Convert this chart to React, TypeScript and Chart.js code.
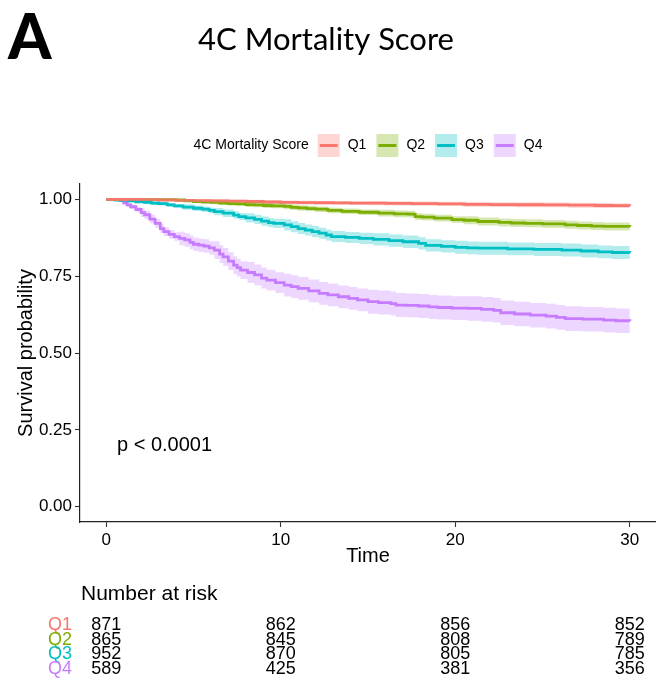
import { useEffect, useRef } from "react";
import { Chart, registerables } from "chart.js";

Chart.register(...registerables);

// Kaplan–Meier survival by 4C Mortality Score quartile
const groups = ["Q1", "Q2", "Q3", "Q4"];
const lineColors = ["#F8766D", "#7CAE00", "#00BFC4", "#C77CFF"];
const bandColors = [
  "rgba(248,118,109,0.3)",
  "rgba(124,174,0,0.3)",
  "rgba(0,191,196,0.3)",
  "rgba(199,124,255,0.3)",
];

const q1Times = [0, 1, 2, 3, 4, 5, 6, 7, 8, 9, 10, 11, 12, 13, 14, 15, 16, 17.5, 19, 20.5, 22, 23.5, 25, 26.5, 28, 29, 30];
const q1Surv = [1, 0.9995, 0.999, 0.998, 0.997, 0.996, 0.995, 0.994, 0.993, 0.9915, 0.990, 0.9895, 0.989, 0.9885, 0.988, 0.9875, 0.987, 0.986, 0.985, 0.984, 0.983, 0.9825, 0.982, 0.981, 0.980, 0.9795, 0.979];

const q2Times = [0, 2, 4, 4.5, 5, 5.5, 6, 6.5, 7, 7.5, 8, 8.5, 9, 9.5, 10.2, 10.6, 11, 11.5, 12, 12.7, 13.5, 14.5, 15.6, 16.5, 17.3, 17.7, 18.1, 18.8, 19.8, 20.5, 21.3, 22.5, 23.2, 24, 25, 26.3, 27, 27.8, 28.5, 30];
const q2Surv = [1, 0.999, 0.998, 0.995, 0.993, 0.991, 0.99, 0.988, 0.986, 0.985, 0.983, 0.982, 0.98, 0.979, 0.977, 0.974, 0.972, 0.97, 0.968, 0.964, 0.961, 0.958, 0.955, 0.953, 0.952, 0.944, 0.942, 0.939, 0.934, 0.932, 0.928, 0.925, 0.923, 0.922, 0.92, 0.917, 0.915, 0.913, 0.912, 0.911];

const q3Times = [0, 0.5, 0.9, 1.2, 1.7, 2.2, 2.6, 3.0, 3.5, 3.9, 4.4, 5.0, 5.5, 5.9, 6.2, 6.7, 7.3, 7.6, 8.0, 8.5, 8.9, 9.3, 9.6, 10.2, 10.6, 11.0, 11.4, 11.8, 12.2, 12.6, 12.9, 13.7, 14.5, 15.3, 16.2, 17.0, 17.9, 18.3, 19.2, 20.0, 20.7, 21.3, 23, 24.5, 26.1, 27.2, 28.2, 29, 30];
const q3Surv = [1, 0.998, 0.997, 0.995, 0.992, 0.99, 0.988, 0.986, 0.982, 0.979, 0.975, 0.971, 0.968, 0.964, 0.96, 0.955, 0.949, 0.944, 0.94, 0.935, 0.929, 0.924, 0.922, 0.917, 0.911, 0.905, 0.9, 0.895, 0.89, 0.884, 0.879, 0.876, 0.873, 0.87, 0.866, 0.862, 0.857, 0.85, 0.847, 0.844, 0.842, 0.841, 0.839, 0.837, 0.835, 0.832, 0.829, 0.827, 0.826];

const q4Times = [0, 0.6, 0.8, 1.0, 1.2, 1.4, 1.7, 2.0, 2.2, 2.5, 2.8, 3.1, 3.3, 3.6, 3.9, 4.2, 4.5, 4.8, 5.0, 5.3, 5.6, 5.9, 6.2, 6.5, 6.7, 7.0, 7.3, 7.5, 7.7, 8.1, 8.5, 8.9, 9.2, 9.7, 10.2, 10.6, 11.0, 11.6, 12.2, 12.7, 13.3, 13.9, 14.4, 15.0, 15.6, 16.3, 16.6, 17.2, 17.9, 18.5, 19.0, 19.8, 20.7, 21.5, 22.2, 22.6, 23.4, 24.3, 25.2, 25.8, 26.3, 27.3, 28.5, 29.2, 30];
const q4Surv = [1, 1, 0.996, 0.989, 0.982, 0.976, 0.967, 0.957, 0.95, 0.936, 0.922, 0.905, 0.895, 0.886, 0.879, 0.873, 0.868, 0.86, 0.854, 0.851, 0.848, 0.842, 0.835, 0.822, 0.813, 0.799, 0.786, 0.778, 0.77, 0.762, 0.754, 0.744, 0.737, 0.729, 0.721, 0.716, 0.71, 0.702, 0.694, 0.689, 0.683, 0.678, 0.673, 0.667, 0.664, 0.661, 0.656, 0.655, 0.653, 0.65, 0.648, 0.646, 0.645, 0.642, 0.639, 0.631, 0.627, 0.623, 0.62, 0.616, 0.612, 0.61, 0.607, 0.605, 0.604];

// 95% confidence band half-widths, held from each band time onward
const bandTimes = [0, 1, 2, 4, 6, 8, 10, 15, 20, 30];
const q1Band = [0, 0.002, 0.003, 0.004, 0.005, 0.0055, 0.006, 0.007, 0.008, 0.008];
const q2Band = [0, 0.001, 0.002, 0.003, 0.006, 0.008, 0.009, 0.011, 0.013, 0.017];
const q3Band = [0, 0.004, 0.006, 0.009, 0.012, 0.015, 0.018, 0.02, 0.021, 0.022];
const q4Band = [0, 0.007, 0.014, 0.022, 0.029, 0.034, 0.037, 0.039, 0.04, 0.04];

// Number at risk table
const riskTimes = [0, 10, 20, 30];
const q1Risk = [871, 862, 856, 852];
const q2Risk = [865, 845, 808, 789];
const q3Risk = [952, 870, 805, 785];
const q4Risk = [589, 425, 381, 356];

const xTicks = [0, 10, 20, 30];
const yTicks = [0, 0.25, 0.5, 0.75, 1];

const seriesTimes = [q1Times, q2Times, q3Times, q4Times];
const seriesSurv = [q1Surv, q2Surv, q3Surv, q4Surv];
const seriesBand = [q1Band, q2Band, q3Band, q4Band];
const seriesRisk = [q1Risk, q2Risk, q3Risk, q4Risk];

const AXIS_FONT = '"Liberation Sans", Arial, sans-serif';
const TITLE_FONT = 'Lato, "Open Sans", sans-serif';

function bandAt(band: number[], t: number) {
  let hw = band[0];
  for (let i = 0; i < bandTimes.length; i++) {
    if (t >= bandTimes[i]) hw = band[i];
  }
  return hw;
}

const decorations = {
  id: "decorations",
  afterDraw(chart: any) {
    const { ctx, chartArea, scales } = chart;
    const xs = scales.x;
    const ys = scales.y;
    const cx = (chartArea.left + chartArea.right) / 2;
    ctx.save();

    // panel letter and title
    ctx.fillStyle = "#000";
    ctx.textBaseline = "alphabetic";
    ctx.textAlign = "left";
    ctx.font = `900 62px ${TITLE_FONT}`;
    ctx.fillText("A", 8, 59);
    ctx.textAlign = "center";
    ctx.font = `400 31px ${TITLE_FONT}`;
    ctx.fillText("4C Mortality Score", 326, 50);

    // legend
    ctx.font = `14px ${AXIS_FONT}`;
    ctx.textBaseline = "middle";
    ctx.textAlign = "left";
    const legendTitle = "4C Mortality Score";
    const keyW = 22;
    const keyH = 23;
    const titleW = ctx.measureText(legendTitle).width;
    const labelWs = groups.map((g) => ctx.measureText(g).width);
    let total = titleW + 9;
    labelWs.forEach((w, i) => {
      total += keyW + 8 + w + (i < groups.length - 1 ? 10 : 0);
    });
    let lx = cx - total / 2;
    const ly = 145.5;
    ctx.fillStyle = "#000";
    ctx.fillText(legendTitle, lx, ly);
    lx += titleW + 9;
    groups.forEach((g, i) => {
      ctx.fillStyle = bandColors[i];
      ctx.fillRect(lx, ly - keyH / 2, keyW, keyH);
      ctx.strokeStyle = lineColors[i];
      ctx.lineWidth = 3;
      ctx.beginPath();
      ctx.moveTo(lx + 2, ly);
      ctx.lineTo(lx + keyW - 2, ly);
      ctx.stroke();
      lx += keyW + 8;
      ctx.fillStyle = "#000";
      ctx.fillText(g, lx, ly);
      lx += labelWs[i] + 10;
    });

    // axis titles
    ctx.font = `20px ${AXIS_FONT}`;
    ctx.textAlign = "center";
    ctx.textBaseline = "middle";
    ctx.fillText("Time", cx, 556);
    ctx.save();
    ctx.translate(26, (chartArea.top + chartArea.bottom) / 2);
    ctx.rotate(-Math.PI / 2);
    ctx.fillText("Survival probability", 0, 0);
    ctx.restore();

    // log-rank p-value
    ctx.textAlign = "left";
    ctx.fillText("p < 0.0001", 117, ys.getPixelForValue(0.2));

    // number at risk
    ctx.textBaseline = "middle";
    ctx.font = `21px ${AXIS_FONT}`;
    ctx.fillText("Number at risk", 81, 594);
    ctx.font = `18px ${AXIS_FONT}`;
    groups.forEach((g, i) => {
      const ry = 625 + i * 14.6;
      ctx.textAlign = "right";
      ctx.fillStyle = lineColors[i];
      ctx.fillText(g, 72, ry);
      ctx.textAlign = "center";
      ctx.fillStyle = "#000";
      seriesRisk[i].forEach((n, j) => {
        ctx.fillText(String(n), xs.getPixelForValue(riskTimes[j]), ry);
      });
    });

    ctx.restore();
  },
};

export default function App() {
  const canvasRef = useRef<HTMLCanvasElement | null>(null);

  useEffect(() => {
    const canvas = canvasRef.current;
    if (!canvas) return;

    const bandSets: any[] = [];
    const lineSets: any[] = [];
    groups.forEach((g, i) => {
      const times = seriesTimes[i];
      const surv = seriesSurv[i];
      const band = seriesBand[i];
      bandSets.push({
        label: g + " upper",
        data: times.map((t, k) => ({ x: t, y: Math.min(1, surv[k] + bandAt(band, t)) })),
        stepped: true,
        borderWidth: 0,
        borderColor: "rgba(0,0,0,0)",
        pointRadius: 0,
        fill: false,
      });
      bandSets.push({
        label: g + " lower",
        data: times.map((t, k) => ({ x: t, y: surv[k] - bandAt(band, t) })),
        stepped: true,
        borderWidth: 0,
        borderColor: "rgba(0,0,0,0)",
        backgroundColor: bandColors[i],
        pointRadius: 0,
        fill: "-1",
      });
      lineSets.push({
        label: g,
        data: times.map((t, k) => ({ x: t, y: surv[k] })),
        stepped: true,
        borderColor: lineColors[i],
        borderWidth: 2.8,
        pointRadius: 0,
        fill: false,
      });
    });

    const chart = new Chart(canvas, {
      type: "line",
      data: { datasets: [...bandSets, ...lineSets] },
      options: {
        animation: false,
        responsive: false,
        devicePixelRatio: 1,
        layout: { padding: { top: 184, left: 0, right: 0, bottom: 112 } },
        plugins: { legend: { display: false }, tooltip: { enabled: false } },
        scales: {
          x: {
            type: "linear",
            min: -1.5,
            max: 31.5,
            afterBuildTicks: (axis: any) => {
              axis.ticks = xTicks.map((v) => ({ value: v }));
            },
            afterFit: (axis: any) => {
              axis.height = 50;
            },
            ticks: {
              color: "#000",
              font: { family: AXIS_FONT, size: 17 },
              padding: 3,
              maxRotation: 0,
              callback: (v: any) => String(v),
            },
            grid: {
              display: true,
              drawOnChartArea: false,
              drawTicks: true,
              tickLength: 5,
              tickColor: "#333",
              tickWidth: 1.1,
            },
            border: { display: true, color: "#222", width: 1.2 },
          },
          y: {
            type: "linear",
            min: -0.05,
            max: 1.05,
            afterBuildTicks: (axis: any) => {
              axis.ticks = yTicks.map((v) => ({ value: v }));
            },
            afterFit: (axis: any) => {
              axis.width = 80;
            },
            ticks: {
              color: "#000",
              font: { family: AXIS_FONT, size: 17 },
              padding: 3,
              callback: (v: any) => Number(v).toFixed(2),
            },
            grid: {
              display: true,
              drawOnChartArea: false,
              drawTicks: true,
              tickLength: 5,
              tickColor: "#333",
              tickWidth: 1.1,
            },
            border: { display: true, color: "#222", width: 1.2 },
          },
        },
      },
      plugins: [decorations],
    });

    return () => chart.destroy();
  }, []);

  return (
    <div style={{ position: "absolute", left: 0, top: 0, width: 656, height: 684, background: "#fff" }}>
      <canvas ref={canvasRef} width={656} height={684} />
    </div>
  );
}
